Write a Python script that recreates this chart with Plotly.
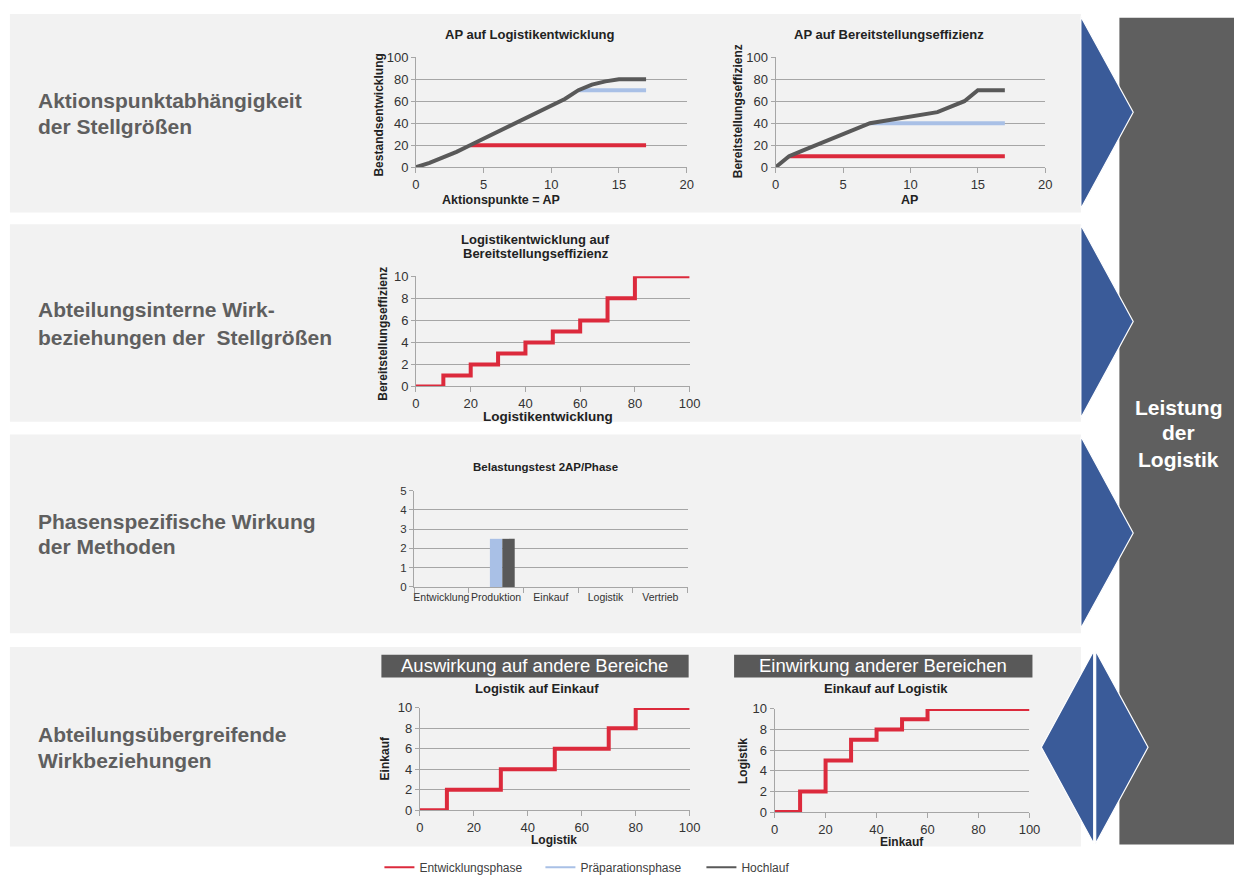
import plotly.graph_objects as go

W, H = 1245, 884
def fx(p): return p / W
def fy(p): return 1 - p / H

RED = '#dc2a3c'
BLUE = '#a9c0e6'
GRAY = '#595959'
PANEL = '#f2f2f2'
ARROW = '#3a5b99'
FONT = 'Liberation Sans, Arial, sans-serif'
TXT = '#333333'

# ---------------- data ----------------
series_names = ['Entwicklungsphase', 'Präparationsphase', 'Hochlauf']

# Chart 1: AP auf Logistikentwicklung
c1_ap = [0, 1, 2, 3, 4, 5, 6, 7, 8, 9, 10, 11, 12, 13, 14, 15, 16, 17]
c1_hoch = [0, 4, 9, 14, 20, 26, 32, 38, 44, 50, 56, 62, 70, 75, 78, 80, 80, 80]
c1_prep_x = [12, 17]
c1_prep_y = [70, 70]
c1_entw_x = [4, 17]
c1_entw_y = [20, 20]

# Chart 2: AP auf Bereitstellungseffizienz
c2_ap = [0, 1, 2, 3, 4, 5, 6, 7, 8, 9, 10, 11, 12, 13, 14, 15, 16, 17]
c2_hoch = [0, 10, 15, 20, 25, 30, 35, 40, 42, 44, 46, 48, 50, 55, 60, 70, 70, 70]
c2_prep_x = [7, 17]
c2_prep_y = [40, 40]
c2_entw_x = [1, 17]
c2_entw_y = [10, 10]

# Chart 3: Logistikentwicklung auf Bereitstellungseffizienz
c3_x = [0, 10, 20, 30, 40, 50, 60, 70, 80, 100]
c3_y = [0, 1, 2, 3, 4, 5, 6, 8, 10, 10]

# Chart 4: Belastungstest 2AP/Phase
phases = ['Entwicklung', 'Produktion', 'Einkauf', 'Logistik', 'Vertrieb']
c4_entw = [0, 0, 0, 0, 0]
c4_prep = [0, 2.5, 0, 0, 0]
c4_hoch = [0, 2.5, 0, 0, 0]

# Chart 5: Logistik auf Einkauf
c5_x = [0, 10, 30, 50, 70, 80, 100]
c5_y = [0, 2, 4, 6, 8, 10, 10]

# Chart 6: Einkauf auf Logistik
c6_x = [0, 10, 20, 30, 40, 50, 60, 100]
c6_y = [0, 2, 5, 7, 8, 9, 10, 10]

# ---------------- figure ----------------
fig = go.Figure()

def line(x, y, color, ax, shape='linear', width=4):
    fig.add_trace(go.Scatter(x=x, y=y, mode='lines', xaxis='x' + ax, yaxis='y' + ax,
                             line=dict(color=color, width=width, shape=shape),
                             cliponaxis=False, showlegend=False, hoverinfo='skip'))

line(c1_entw_x, c1_entw_y, RED, '')
line(c1_prep_x, c1_prep_y, BLUE, '')
line(c1_ap, c1_hoch, GRAY, '')

line(c2_entw_x, c2_entw_y, RED, '2')
line(c2_prep_x, c2_prep_y, BLUE, '2')
line(c2_ap, c2_hoch, GRAY, '2')

line(c3_x, c3_y, RED, '3', shape='hv')

for vals, col, nm in [(c4_entw, RED, series_names[0]), (c4_prep, BLUE, series_names[1]),
                      (c4_hoch, GRAY, series_names[2])]:
    fig.add_trace(go.Bar(x=phases, y=vals, marker=dict(color=col, line=dict(width=0)),
                         xaxis='x4', yaxis='y4', showlegend=False, name=nm, hoverinfo='skip'))

line(c5_x, c5_y, RED, '5', shape='hv')
line(c6_x, c6_y, RED, '6', shape='hv')

# legend-only entries
for nm, col in zip(series_names, [RED, BLUE, GRAY]):
    fig.add_trace(go.Scatter(x=[None], y=[None], mode='lines', name=nm,
                             line=dict(color=col, width=2), xaxis='x', yaxis='y'))

GRID = '#a6a6a6'

def xax(px0, px1, rng, dtick, cat=False, fsize=13):
    d = dict(domain=[fx(px0), fx(px1)], showgrid=False, showline=True, linecolor=GRID,
             ticks='outside', ticklen=5, tickcolor=GRID, zeroline=False, fixedrange=True,
             tickangle=0,
             tickfont=dict(family=FONT, size=fsize, color=TXT))
    if cat:
        d.update(type='category', tickson='boundaries')
    else:
        d.update(range=rng, dtick=dtick, tick0=0)
    return d

def yax(py0, py1, rng, dtick, fsize=13):
    return dict(domain=[fy(py1), fy(py0)], range=rng, dtick=dtick, tick0=0,
                showgrid=True, gridcolor=GRID, gridwidth=1, showline=True, linecolor=GRID,
                ticks='outside', ticklen=4, tickcolor=GRID, zeroline=False, fixedrange=True,
                tickfont=dict(family=FONT, size=fsize, color=TXT))

layout = dict(
    width=W, height=H, margin=dict(l=0, r=0, t=0, b=0),
    paper_bgcolor='white', plot_bgcolor='rgba(0,0,0,0)',
    bargap=0.32, bargroupgap=0,
    xaxis=dict(xax(417, 691, [0, 20], 5), anchor='y'),
    yaxis=dict(yax(51, 163, [0, 100], 20), anchor='x'),
    xaxis2=dict(xax(781, 1054, [0, 20], 5), anchor='y2'),
    yaxis2=dict(yax(51, 163, [0, 100], 20), anchor='x2'),
    xaxis3=dict(xax(417, 694, [0, 100], 20), anchor='y3'),
    yaxis3=dict(yax(274, 386, [0, 10], 2), anchor='x3'),
    xaxis4=dict(xax(415, 692, None, None, cat=True, fsize=10.5), anchor='y4'),
    yaxis4=dict(yax(492, 590, [0, 5], 1, fsize=11.5), anchor='x4'),
    xaxis5=dict(xax(421, 694, [0, 100], 20), anchor='y5'),
    yaxis5=dict(yax(713, 817, [0, 10], 2), anchor='x5'),
    xaxis6=dict(xax(780, 1038, [0, 100], 20), anchor='y6'),
    yaxis6=dict(yax(714, 819, [0, 10], 2), anchor='x6'),
    showlegend=True,
    legend=dict(orientation='h', x=fx(380), y=fy(875), xanchor='left', yanchor='middle',
                bgcolor='rgba(0,0,0,0)', entrywidth=116, entrywidthmode='pixels',
                font=dict(family=FONT, size=12, color='#404040')),
)
fig.update_layout(**layout)

# ---------------- shapes ----------------
shapes = []
def rect(x0, y0, x1, y1, color, layer='below'):
    shapes.append(dict(type='rect', xref='paper', yref='paper', x0=fx(x0), x1=fx(x1),
                       y0=fy(y1), y1=fy(y0), fillcolor=color, line=dict(width=0), layer=layer))

for (a, b) in [(7, 209), (221, 422), (435, 637), (651, 854)]:
    rect(6, a, 1090, b, PANEL)
rect(1129, 11, 1245, 852, '#5f5f5f')
rect(382, 659, 693, 682, GRAY)
rect(739, 659, 1041, 682, GRAY)

def poly(pts):
    p = 'M' + ' L'.join(f'{fx(x):.5f},{fy(y):.5f}' for x, y in pts) + ' Z'
    shapes.append(dict(type='path', xref='paper', yref='paper', path=p, fillcolor=ARROW,
                       line=dict(color='white', width=1.2), layer='below'))

poly([(1090, 10), (1143, 107), (1090, 205)])
poly([(1090, 222), (1143, 320), (1090, 418)])
poly([(1090, 437), (1143, 535), (1090, 632)])
poly([(1103, 655), (1050, 753), (1103, 851)])
poly([(1105, 655), (1158, 753), (1105, 851)])
fig.update_layout(shapes=shapes)

# ---------------- annotations ----------------
ann = []
def text(s, x, y, size, color='#222222', bold=False, xanchor='center', angle=0):
    ann.append(dict(text=('<b>%s</b>' % s) if bold else s, x=fx(x), y=fy(y),
                    xref='paper', yref='paper', xanchor=xanchor, yanchor='middle',
                    showarrow=False, textangle=angle,
                    font=dict(family=FONT, size=size, color=color)))

LEFT = '#5f5f5f'
for s, y in [('Aktionspunktabhängigkeit', 95), ('der Stellgrößen', 122),
             ('Abteilungsinterne Wirk-', 308), ('beziehungen der  Stellgrößen', 336),
             ('Phasenspezifische Wirkung', 523), ('der Methoden', 549),
             ('Abteilungsübergreifende', 740), ('Wirkbeziehungen', 767)]:
    text(s.replace('  ', '&nbsp; '), 32, y, 21, LEFT, True, 'left')

for s, y in [('Leistung', 407), ('der', 433), ('Logistik', 460)]:
    text(s, 1189, y, 21, 'white', True)

# chart titles
text('AP auf Logistikentwicklung', 532, 28, 13, bold=True)
text('AP auf Bereitstellungseffizienz', 896, 28, 13, bold=True)
text('Logistikentwicklung auf', 538, 237, 13, bold=True)
text('Bereitstellungseffizienz', 538, 251, 13, bold=True)
text('Belastungstest 2AP/Phase', 548, 468, 11.5, bold=True)
text('Logistik auf Einkauf', 540, 693, 13, bold=True)
text('Einkauf auf Logistik', 893, 693, 13, bold=True)

# header boxes
text('Auswirkung auf andere Bereiche', 537, 670, 18.5, 'white')
text('Einwirkung anderer Bereichen', 890, 670, 18.5, 'white')

# axis titles
text('Aktionspunkte = AP', 503, 196, 12.5, bold=True)
text('AP', 917, 196, 12.5, bold=True)
text('Logistikentwicklung', 551, 417, 13.5, bold=True)
text('Logistik', 557, 847, 12, bold=True)
text('Einkauf', 909, 849, 12, bold=True)

text('Bestandsentwicklung', 380, 110, 12, bold=True, angle=-90)
text('Bereitstellungseffizienz', 743, 106, 12, bold=True, angle=-90)
text('Bereitstellungseffizienz', 384, 332, 12, bold=True, angle=-90)
text('Einkauf', 386, 764, 12, bold=True, angle=-90)
text('Logistik', 748, 767, 12, bold=True, angle=-90)

fig.update_layout(annotations=ann)

# remove the default page margin so the 1245x884 figure fills the window exactly
post = ("document.documentElement.style.margin='0';document.documentElement.style.overflow='hidden';"
        "document.body.style.margin='0';document.body.style.padding='0';"
        "document.body.style.overflow='hidden';")

fig.write_html('out.html', config={'displayModeBar': False}, post_script=post)
